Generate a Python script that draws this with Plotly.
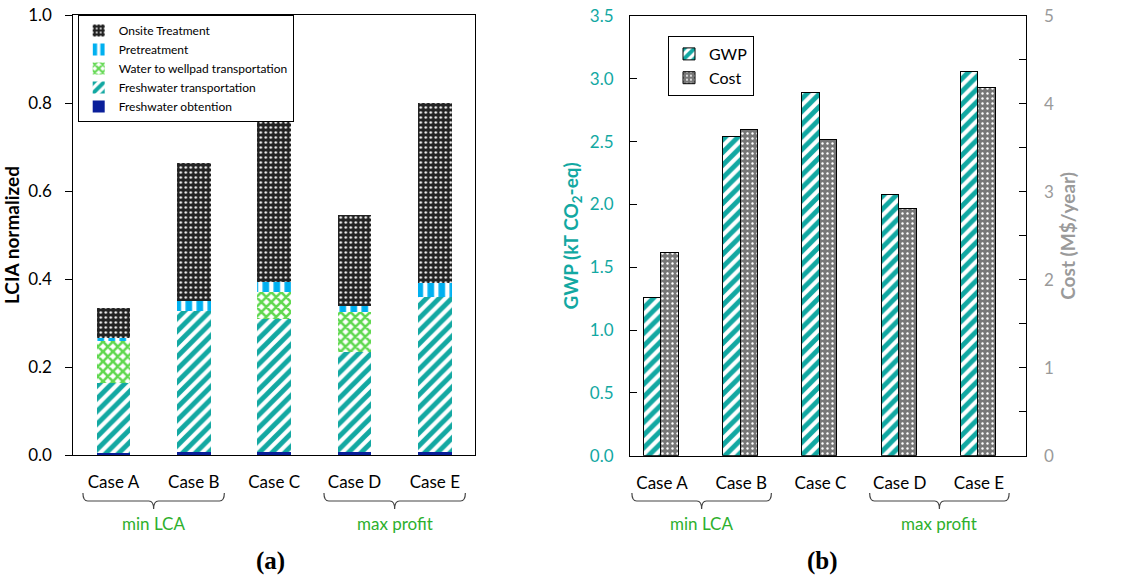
import plotly.graph_objects as go

# ---------------- data ----------------
cases = ["Case A", "Case B", "Case C", "Case D", "Case E"]

# (a) LCIA normalized, stacked contributions
freshwater_obtention = [0.005, 0.006, 0.006, 0.006, 0.006]
freshwater_transport = [0.159, 0.321, 0.304, 0.229, 0.352]
water_to_wellpad = [0.097, 0.000, 0.061, 0.089, 0.000]
pretreatment = [0.004, 0.023, 0.023, 0.015, 0.032]
onsite_treatment = [0.068, 0.313, 0.363, 0.206, 0.409]

# (b) GWP and cost
gwp = [1.26, 2.54, 2.89, 2.08, 3.06]
cost = [2.31, 3.71, 3.60, 2.81, 4.19]

group_labels = ["min LCA", "max profit"]
group_centers = [0.5, 3.5]

FONT = "Lato"
TEAL = "#12A8A2"
GREEN_TXT = "#2DB02D"
GRAY_AX = "#9A9A9A"

fig = go.Figure()
xs = list(range(len(cases)))

# ---------------- (a) stacked bars ----------------
stack = [
    ("Freshwater obtention", freshwater_obtention, dict(color="#0A1F9A")),
    ("Freshwater transportation", freshwater_transport,
     dict(color="white", pattern=dict(shape="/", fgcolor=TEAL, bgcolor="white", size=9,
                                      solidity=0.55, fgopacity=1))),
    ("Water to wellpad transportation", water_to_wellpad,
     dict(color="white", pattern=dict(shape="x", fgcolor="#5FD84E", bgcolor="white", size=7,
                                      solidity=0.6, fgopacity=1))),
    ("Pretreatment", pretreatment,
     dict(color="white", pattern=dict(shape="|", fgcolor="#00B0F0", bgcolor="white", size=11,
                                      solidity=0.6, fgopacity=1))),
    ("Onsite Treatment", onsite_treatment,
     dict(color="#222222", pattern=dict(shape=".", fgcolor="white", bgcolor="#222222", size=5,
                                        solidity=0.18, fgopacity=1))),
]
for name, vals, mk in stack:
    mk = dict(mk)
    mk["line"] = dict(width=0)
    fig.add_trace(go.Bar(x=xs, y=vals, name=name, marker=mk, width=0.42,
                         xaxis="x", yaxis="y", legend="legend"))

# ---------------- (b) grouped bars ----------------
fig.add_trace(go.Bar(
    x=xs, y=gwp, name="GWP", width=0.22, offset=-0.235,
    marker=dict(color="white", line=dict(color="black", width=1),
                pattern=dict(shape="/", fgcolor=TEAL, bgcolor="white", size=9, solidity=0.55,
                             fgopacity=1)),
    xaxis="x2", yaxis="y3", legend="legend2", legendgroup="g1"))
fig.add_trace(go.Bar(
    x=xs, y=cost, name="Cost", width=0.22, offset=-0.015,
    marker=dict(color="#777777", line=dict(color="black", width=1),
                pattern=dict(shape=".", fgcolor="white", bgcolor="#777777", size=5, solidity=0.18,
                             fgopacity=1)),
    xaxis="x2", yaxis="y4", legend="legend2", legendgroup="g2"))

W, H = 1132, 578
def px(x):
    return x / W
def py(y):
    return 1 - y / H

axis_common = dict(showline=True, linecolor="black", linewidth=1, showgrid=False,
                   zeroline=False, automargin=False)

fig.update_layout(
    width=W, height=H, margin=dict(l=0, r=0, t=0, b=0, autoexpand=False),
    paper_bgcolor="white", plot_bgcolor="white",
    barmode="stack",
    font=dict(family=FONT, size=16, color="black"),
    xaxis=dict(domain=[px(73.3), px(475)], range=[-0.5, 4.5], tickvals=xs, ticktext=cases,
               ticks="", mirror=True, ticklabelstandoff=12, tickfont=dict(size=17), **axis_common),
    yaxis=dict(domain=[py(455), py(15)], range=[0, 1.0], dtick=0.2, tickformat=".1f",
               ticks="outside", ticklen=7, tickcolor="black", mirror=True, ticklabelstandoff=10,
               tickfont=dict(size=17),
               title=dict(text="<b>LCIA normalized</b>", font=dict(size=19), standoff=8),
               **axis_common),
    xaxis2=dict(domain=[px(630), px(1025.7)], range=[-0.404, 4.589], tickvals=xs, ticktext=cases,
                ticks="", mirror=True, ticklabelstandoff=12, tickfont=dict(size=17), anchor="y3",
                **axis_common),
    yaxis3=dict(domain=[py(455.7), py(16)], range=[0, 3.5], dtick=0.5, tickformat=".1f",
                ticks="inside", ticklen=7, tickcolor="black", anchor="x2", ticklabelstandoff=12,
                tickfont=dict(color=TEAL, size=17),
                title=dict(text="<b>GWP (kT CO<sub>2</sub>-eq)</b>", font=dict(color=TEAL, size=19),
                           standoff=6),
                **axis_common),
    yaxis4=dict(range=[0, 5], dtick=1, overlaying="y3", side="right", anchor="x2",
                ticks="inside", ticklen=7, tickcolor="black", ticklabelstandoff=14,
                minor=dict(dtick=0.5, ticks="inside", ticklen=7, tickcolor="black"),
                tickfont=dict(color=GRAY_AX, size=17),
                title=dict(text="<b>Cost (M$/year)</b>", font=dict(color=GRAY_AX, size=19), standoff=8),
                **axis_common),
    legend=dict(x=px(77.7), y=py(15), xanchor="left", yanchor="top",
                bordercolor="black", borderwidth=1, bgcolor="white",
                font=dict(size=12), traceorder="reversed", itemwidth=30,
                tracegroupgap=0),
    legend2=dict(x=px(668), y=py(36), xanchor="left", yanchor="top",
                 bordercolor="black", borderwidth=1, bgcolor="white",
                 font=dict(size=16), traceorder="normal", itemwidth=30, tracegroupgap=8),
)

# ---------------- braces + group labels ----------------
def brace(xref, x0, x1, ytop, ymid, ybot):
    xm = (x0 + x1) / 2
    d = 0.06
    path = (f"M {x0},{ytop} Q {x0},{ymid} {x0+d},{ymid} "
            f"L {xm-d},{ymid} Q {xm},{ymid} {xm},{ybot} "
            f"Q {xm},{ymid} {xm+d},{ymid} "
            f"L {x1-d},{ymid} Q {x1},{ymid} {x1},{ytop}")
    return dict(type="path", path=path, xref=xref, yref="paper",
                line=dict(color="#444444", width=1.2))

shapes = []
annotations = []
for xr in ["x", "x2"]:
    for lab, c in zip(group_labels, group_centers):
        shapes.append(brace(xr, c - 0.88, c + 0.88, py(493), py(501), py(509)))
        annotations.append(dict(text=lab, x=c, xref=xr, y=py(523), yref="paper",
                                showarrow=False, font=dict(color=GREEN_TXT, size=17),
                                xanchor="center", yanchor="middle"))

annotations.append(dict(text="<b>(a)</b>", x=px(270), xref="paper", y=py(561), yref="paper",
                        showarrow=False, xanchor="center", yanchor="middle",
                        font=dict(family="Liberation Serif", size=25, color="black")))
annotations.append(dict(text="<b>(b)</b>", x=px(823), xref="paper", y=py(561), yref="paper",
                        showarrow=False, xanchor="center", yanchor="middle",
                        font=dict(family="Liberation Serif", size=25, color="black")))

fig.update_layout(shapes=shapes, annotations=annotations)

fig.write_html("out.html")
